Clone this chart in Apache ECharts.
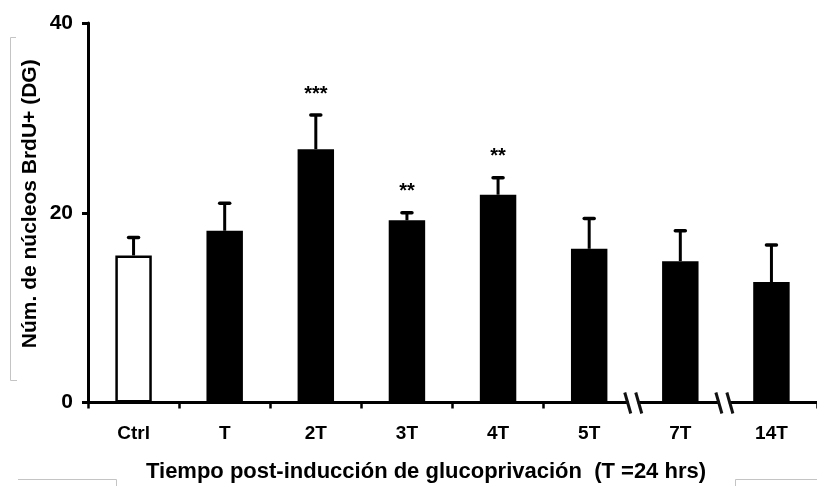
<!DOCTYPE html>
<html><head><meta charset="utf-8">
<script src="https://cdn.jsdelivr.net/npm/echarts@6/dist/echarts.min.js"></script>
<style>html,body{margin:0;padding:0;background:#fff}#c{width:817px;height:486px}</style>
</head><body><div id="c"></div>
<script>
// ---- data ----
const categories = ['Ctrl', 'T', '2T', '3T', '4T', '5T', '7T', '14T'];
const means = [15.5, 18.1, 26.7, 19.2, 21.9, 16.2, 14.9, 12.7];
const errTops = [17.4, 21.0, 30.3, 20.0, 23.7, 19.4, 18.1, 16.6];
const significance = ['', '', '***', '**', '**', '', '', ''];
const yTicks = [0, 20, 40];
const breakBetween = [[5, 6], [6, 7]]; // axis breaks: 5T|7T and 7T|14T
const yTitle = 'Núm. de núcleos BrdU+ (DG)';
const xTitle = 'Tiempo post-inducción de glucoprivación  (T =24 hrs)';

const FONT = '"Liberation Sans", Arial, Helvetica, sans-serif';
const chart = echarts.init(document.getElementById('c'), null, {renderer: 'canvas'});

const hiddenTicks = breakBetween.map(p => p[1]);

const option = {
  animation: false,
  backgroundColor: '#fff',
  grid: {left: 88, right: -9, top: 23, bottom: 83.5, containLabel: false},
  xAxis: {
    type: 'category',
    data: categories,
    boundaryGap: true,
    axisLine: {lineStyle: {color: '#000', width: 3}},
    axisTick: {
      show: true, length: 6, inside: false,
      lineStyle: {color: '#000', width: 2.5},
      interval: function (index) { return hiddenTicks.indexOf(index) < 0; }
    },
    axisLabel: {color: '#000', fontFamily: FONT, fontWeight: 'bold', fontSize: 19, margin: 22, interval: 0},
    splitLine: {show: false}
  },
  yAxis: {
    type: 'value',
    min: yTicks[0], max: yTicks[yTicks.length - 1], interval: yTicks[1] - yTicks[0],
    axisLine: {show: true, lineStyle: {color: '#000', width: 3}},
    axisTick: {show: true, length: 6, inside: false, lineStyle: {color: '#000', width: 3}},
    axisLabel: {color: '#000', fontFamily: FONT, fontWeight: 'bold', fontSize: 21, margin: 15},
    splitLine: {show: false}
  },
  series: [
    {
      type: 'bar',
      barWidth: '40%',
      data: means.map((v, i) => ({
        value: v,
        itemStyle: i === 0
          ? {color: '#fff', borderColor: '#000', borderWidth: 2.5}
          : {color: '#000', borderColor: '#000', borderWidth: 0}
      })),
      z: 2
    },
    {
      type: 'custom',
      z: 3,
      data: categories.map((c, i) => [i, means[i], errTops[i]]),
      renderItem: function (params, api) {
        const i = api.value(0);
        const base = api.coord([i, api.value(1)]);
        const top = api.coord([i, api.value(2)]);
        const cap = 5;
        const children = [
          {type: 'line', shape: {x1: top[0], y1: base[1], x2: top[0], y2: top[1]},
           style: {stroke: '#000', lineWidth: 3}},
          {type: 'line', shape: {x1: top[0] - cap, y1: top[1], x2: top[0] + cap, y2: top[1]},
           style: {stroke: '#000', lineWidth: 3.5, lineCap: 'round'}}
        ];
        const s = significance[i];
        if (s) {
          children.push({type: 'text', style: {text: s, x: top[0], y: top[1] - 21,
            align: 'center', verticalAlign: 'middle', fill: '#000',
            font: 'bold 20px ' + FONT}});
        }
        return {type: 'group', children: children};
      }
    }
  ]
};
chart.setOption(option);

// decorations: axis titles, axis breaks, faint text-box borders
const y0 = chart.convertToPixel({yAxisIndex: 0}, 0);
const yTop = chart.convertToPixel({yAxisIndex: 0}, yTicks[yTicks.length - 1]);
const graphics = [];
graphics.push({
  type: 'text', x: 30, y: (yTop + y0) / 2 - 9, rotation: Math.PI / 2,
  style: {text: yTitle, align: 'center', verticalAlign: 'middle', fill: '#000', font: 'bold 21px ' + FONT}, z: 10
});
graphics.push({
  type: 'text', x: 426, y: 472,
  style: {text: xTitle, align: 'center', verticalAlign: 'middle', fill: '#000', font: 'bold 22px ' + FONT}, z: 10
});
breakBetween.forEach(function (p) {
  const xa = chart.convertToPixel({xAxisIndex: 0}, categories[p[0]]);
  const xb = chart.convertToPixel({xAxisIndex: 0}, categories[p[1]]);
  const bx = (xa + xb) / 2;
  graphics.push({type: 'rect', shape: {x: bx - 6, y: y0 - 3, width: 9, height: 6}, style: {fill: '#fff'}, z: 20});
  graphics.push({type: 'line', shape: {x1: bx - 10, y1: y0 - 10, x2: bx - 4, y2: y0 + 11},
    style: {stroke: '#111', lineWidth: 3}, z: 21});
  graphics.push({type: 'line', shape: {x1: bx + 1, y1: y0 - 10, x2: bx + 7, y2: y0 + 11},
    style: {stroke: '#111', lineWidth: 3}, z: 21});
});
const grey = {stroke: '#c4c4c4', lineWidth: 1, fill: null};
graphics.push({type: 'polyline', shape: {points: [[16, 37.5], [10.5, 37.5], [10.5, 380.5], [17, 380.5]]}, style: grey, z: 1});
graphics.push({type: 'polyline', shape: {points: [[18, 479.5], [116.5, 479.5], [116.5, 486]]}, style: grey, z: 1});
graphics.push({type: 'polyline', shape: {points: [[735.5, 486], [735.5, 479.5], [817, 479.5]]}, style: grey, z: 1});
chart.setOption({graphic: graphics});
</script>
</body></html>
